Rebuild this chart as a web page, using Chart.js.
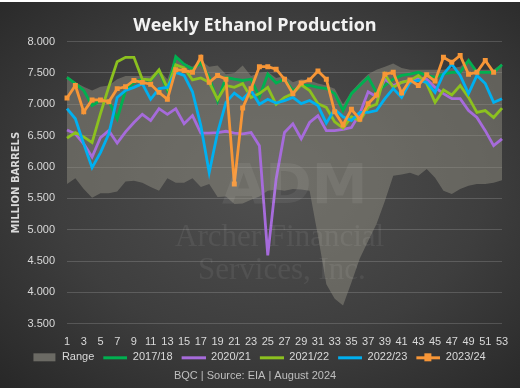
<!DOCTYPE html>
<html>
<head>
<meta charset="utf-8">
<script src="https://cdn.jsdelivr.net/npm/chart.js@4.4.1/dist/chart.umd.min.js"></script>
<style>
  html, body { margin: 0; background: #fff; }
  #wrap {
    position: absolute; left: 0; top: 2px; width: 520px; height: 386px;
    background: radial-gradient(ellipse 75% 75% at 52% 47%, #505050 0%, #3e3e3e 55%, #272727 100%);
  }
</style>
</head>
<body>
<div id="wrap"><canvas id="chart1" width="520" height="386"></canvas></div>
<script>
'use strict';

const weeks = ['1','2','3','4','5','6','7','8','9','10','11','12','13','14','15','16','17','18','19','20',
  '21','22','23','24','25','26','27','28','29','30','31','32','33','34','35','36','37','38','39','40',
  '41','42','43','44','45','46','47','48','49','50','51','52','53'];

// 5-year range (low / high)
const rangeLow = [5.73,5.82,5.65,5.51,5.58,5.58,5.61,5.77,5.78,5.75,5.68,5.62,5.82,5.75,5.75,5.82,5.68,5.73,5.52,5.53,
  5.41,5.42,5.48,5.53,5.62,5.64,5.62,5.65,5.64,5.62,4.90,4.13,3.90,3.79,4.16,4.54,4.82,5.09,5.46,5.86,
  5.88,5.91,5.86,5.97,5.83,5.62,5.57,5.65,5.70,5.73,5.73,5.75,5.79];
const rangeHigh = [7.45,7.35,7.28,7.22,7.28,7.30,7.40,7.45,7.45,7.45,7.45,7.55,7.40,7.78,7.66,7.60,7.70,7.60,7.62,7.48,
  7.50,7.62,7.45,7.50,7.52,7.42,7.45,7.35,7.40,7.38,7.33,7.30,7.25,7.00,7.20,7.35,7.48,7.55,7.60,7.65,
  7.58,7.55,7.55,7.55,7.55,7.55,7.58,7.60,7.72,7.55,7.55,7.55,7.65];

const y1718 = [7.43,7.33,7.22,6.98,7.06,7.05,6.77,7.22,7.35,7.40,7.38,7.54,7.22,7.76,7.64,7.56,7.66,7.43,7.05,7.43,
  7.40,7.38,7.40,7.12,7.48,7.34,7.40,7.22,7.30,7.30,7.27,7.25,7.17,6.90,7.17,7.30,7.43,7.19,7.30,7.40,
  7.46,7.48,7.51,7.46,7.43,7.48,7.51,7.51,7.70,7.51,7.51,7.51,7.63];
const y2021 = [6.59,6.53,6.37,6.16,6.47,6.58,6.38,6.56,6.71,6.84,6.74,6.93,6.84,6.93,6.69,6.82,6.54,6.54,6.55,6.57,
  6.54,6.53,6.55,6.34,4.59,5.81,6.55,6.69,6.45,6.71,6.82,6.58,6.58,6.60,6.63,6.85,7.20,7.12,7.40,7.30,
  7.35,7.38,7.42,7.40,7.27,7.17,7.09,7.09,6.90,6.79,6.58,6.34,6.45];
const y2122 = [6.46,6.55,6.48,6.39,6.85,7.28,7.68,7.75,7.75,7.40,7.39,7.55,7.26,7.63,7.58,7.39,7.42,7.35,7.08,7.30,
  7.27,7.33,7.11,7.17,7.27,7.00,7.11,7.17,7.31,7.22,7.01,6.95,6.72,6.62,6.80,6.74,6.95,7.00,7.48,7.27,
  7.35,7.38,7.46,7.33,7.03,7.23,7.15,7.30,7.11,6.87,6.90,6.79,6.94];
const y2223 = [6.93,6.77,6.37,5.99,6.23,6.53,7.11,7.22,7.27,7.33,7.08,7.25,7.27,7.51,7.46,7.20,6.66,5.91,6.55,7.03,
  7.18,7.08,7.22,7.00,7.08,7.02,7.06,7.11,7.01,7.06,6.98,6.70,6.92,6.80,6.74,6.87,6.87,6.90,7.09,7.25,
  7.11,7.35,7.38,7.35,7.19,7.48,7.64,7.46,7.17,7.46,7.33,7.03,7.09];
const y2324 = [7.10,7.30,6.88,7.07,7.07,7.04,7.25,7.28,7.38,7.35,7.32,7.19,7.08,7.55,7.54,7.51,7.75,7.35,7.46,7.40,
  5.73,6.94,7.25,7.60,7.60,7.56,7.40,7.17,7.34,7.39,7.53,7.40,6.88,6.67,6.92,6.76,7.01,7.15,7.48,7.51,
  7.18,7.39,7.30,7.47,7.37,7.75,7.67,7.78,7.48,7.51,7.70,7.51,null];

const yTicks = [3.5,4.0,4.5,5.0,5.5,6.0,6.5,7.0,7.5,8.0];

const RANGE_COLOR = 'rgba(150,148,136,0.45)';
const C1718 = '#00B050';
const C2021 = '#A66BDB';
const C2122 = '#8CC11F';
const C2223 = '#00B0F0';
const C2324 = '#F79637';

window.addEventListener('load', run);

function run() {
  drawChart();
}

// legend swatch, with empty room on the left as gap between items
function swatch(color, kind) {
  const c = document.createElement('canvas');
  c.width = 32;
  c.height = 10;
  const g = c.getContext('2d');
  if (kind === 'box') {
    g.fillStyle = '#6b6a64';
    g.fillRect(9, 1, 22, 8);
  } else {
    g.fillStyle = color;
    g.fillRect(8, 4, 24, 3);
    if (kind === 'marker') g.fillRect(16, 1, 7, 8);
  }
  return c;
}

const watermark = {
  id: 'watermark',
  afterDatasetsDraw(chart) {
    const ctx = chart.ctx;
    ctx.save();
    ctx.fillStyle = 'rgba(255,255,255,0.065)';
    ctx.font = 'bold 56px "DejaVu Sans"';
    ctx.fillText('ADM', 222, 186);
    ctx.font = '31px "Liberation Serif"';
    ctx.fillText('Archer Financial', 175, 236);
    ctx.fillText('Services, Inc.', 198, 269);
    ctx.restore();
  }
};

function lineSet(label, data, color, order) {
  return {
    label: label,
    data: data,
    borderColor: color,
    backgroundColor: color,
    borderWidth: 2.8,
    pointRadius: 0,
    tension: 0,
    fill: false,
    order: order
  };
}

function drawChart() {
  const ctx = document.getElementById('chart1').getContext('2d');
  const legendList = [
    { text: 'Range', pointStyle: swatch(RANGE_COLOR, 'box'), datasetIndex: 1 },
    { text: '2017/18', pointStyle: swatch(C1718, 'line'), datasetIndex: 2 },
    { text: '2020/21', pointStyle: swatch(C2021, 'line'), datasetIndex: 3 },
    { text: '2021/22', pointStyle: swatch(C2122, 'line'), datasetIndex: 4 },
    { text: '2022/23', pointStyle: swatch(C2223, 'line'), datasetIndex: 5 },
    { text: '2023/24', pointStyle: swatch(C2324, 'marker'), datasetIndex: 6 }
  ];

  const orange = lineSet('2023/24', y2324, C2324, 0);
  orange.pointRadius = 3.5;
  orange.pointStyle = 'rect';
  orange.pointBorderWidth = 0;

  const myChart = new Chart(ctx, {
    type: 'line',
    data: {
      labels: weeks,
      datasets: [
        { label: 'RangeLow', data: rangeLow, borderWidth: 0, pointRadius: 0, fill: false, order: 10 },
        { label: 'Range', data: rangeHigh, borderWidth: 0, pointRadius: 0, fill: '-1',
          backgroundColor: RANGE_COLOR, order: 9 },
        lineSet('2017/18', y1718, C1718, 4),
        lineSet('2020/21', y2021, C2021, 3),
        lineSet('2021/22', y2122, C2122, 2),
        lineSet('2022/23', y2223, C2223, 1),
        orange
      ]
    },
    options: {
      responsive: false,
      animation: false,
      layout: { padding: { top: 2, left: 8, right: 18, bottom: 0 } },
      plugins: {
        title: {
          display: true,
          text: 'Weekly Ethanol Production',
          color: '#f2f2f2',
          font: { family: 'Open Sans', size: 18, weight: 'bold' },
          padding: { top: 11, bottom: 5 }
        },
        subtitle: {
          display: true,
          position: 'bottom',
          text: 'BQC | Source: EIA | August 2024',
          color: '#bfbfbf',
          font: { family: 'Liberation Sans', size: 11 },
          padding: { top: -3, bottom: 5 }
        },
        legend: {
          position: 'bottom',
          labels: {
            usePointStyle: true,
            pointStyleWidth: 32,
            color: '#d9d9d9',
            font: { family: 'Liberation Sans', size: 11 },
            padding: 1,
            generateLabels: () => legendList.map(it => ({
              text: it.text,
              pointStyle: it.pointStyle,
              fillStyle: 'transparent',
              strokeStyle: 'transparent',
              lineWidth: 0,
              fontColor: '#d9d9d9',
              hidden: false,
              datasetIndex: it.datasetIndex
            }))
          }
        },
        tooltip: { enabled: false }
      },
      scales: {
        x: {
          grid: { display: false },
          border: { display: false },
          afterFit: (scale) => { scale.height = 27; },
          ticks: {
            color: '#d9d9d9',
            font: { family: 'Liberation Sans', size: 11 },
            autoSkip: false,
            maxRotation: 0,
            padding: 4,
            callback: (v, i) => (i % 2 === 0 ? weeks[i] : '')
          }
        },
        y: {
          min: 3.5,
          max: 8,
          afterBuildTicks: (scale) => { scale.ticks = yTicks.map(v => ({ value: v })); },
          afterFit: (scale) => { scale.width = 59; },
          grid: { color: 'rgba(255,255,255,0.16)', drawTicks: false },
          border: { display: false },
          ticks: {
            color: '#d9d9d9',
            font: { family: 'Liberation Sans', size: 11 },
            padding: 12,
            callback: (v) => v.toFixed(3)
          },
          title: {
            display: true,
            text: 'MILLION BARRELS',
            color: '#d9d9d9',
            font: { family: 'DejaVu Sans', size: 10, weight: 'bold' },
            padding: 2
          }
        }
      }
    },
    plugins: [watermark]
  });
}
</script>
</body>
</html>
